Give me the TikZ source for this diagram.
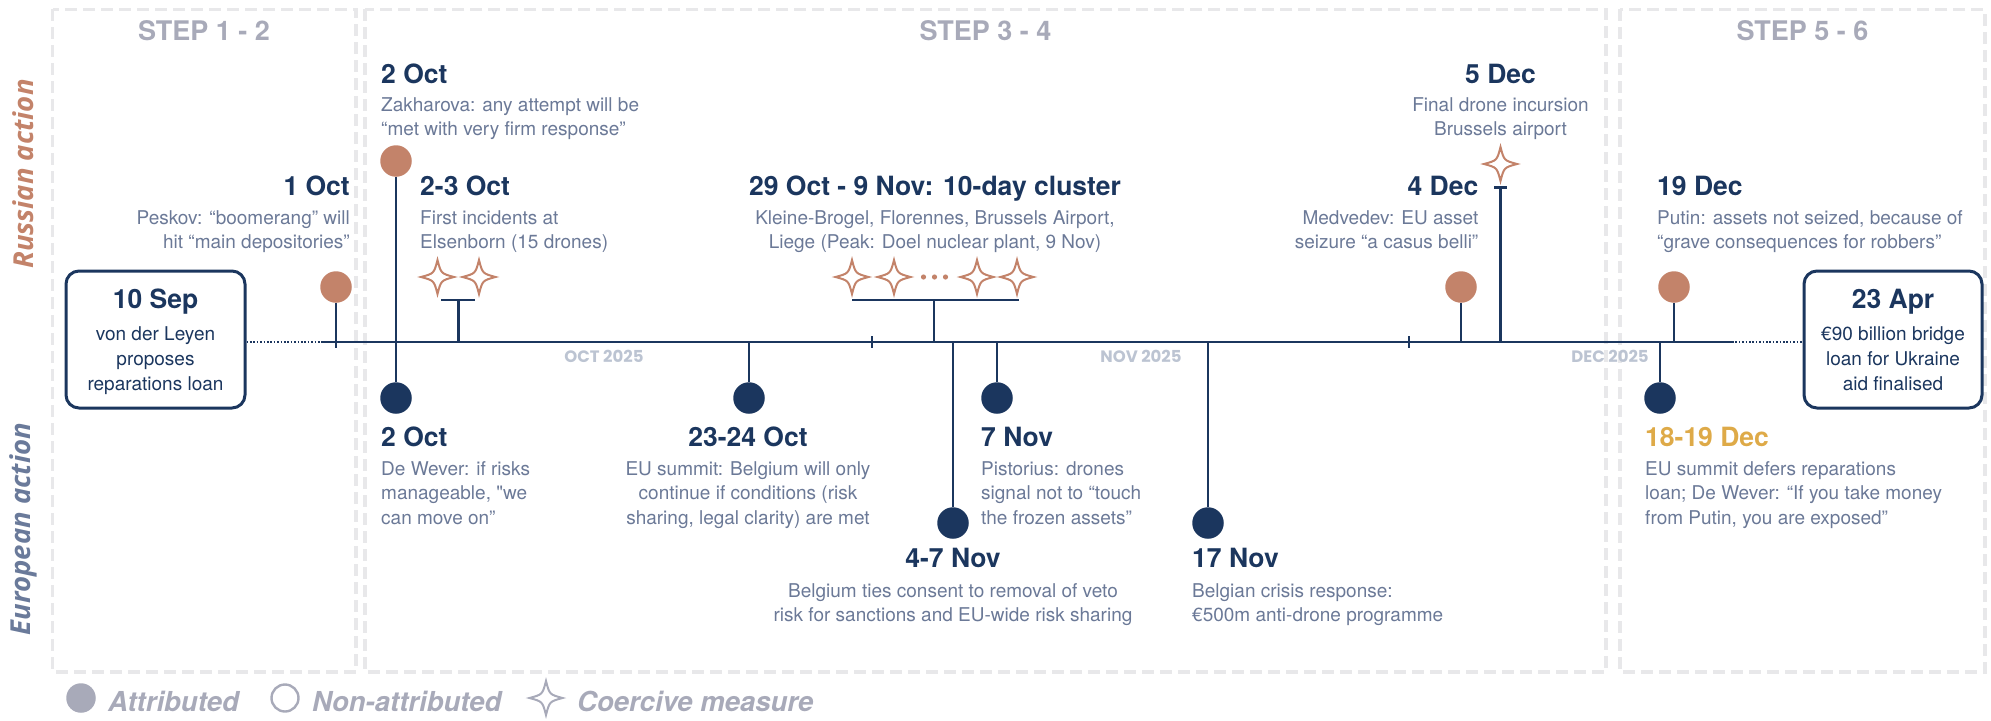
\documentclass[tikz,border=0pt]{standalone}
\usepackage{fontspec}
\setmainfont{TeX Gyre Heros}[Ligatures=TeXOff]
\newfontfamily\osfont{Open Sans}
\newfontfamily\popfont{Poppins}
\definecolor{navy}{HTML}{1B365E}
\definecolor{slate}{HTML}{6B7997}
\definecolor{terra}{HTML}{C3836A}
\definecolor{gold}{HTML}{DEAA48}
\definecolor{stepgrey}{HTML}{A8AAB9}
\definecolor{framegrey}{HTML}{E8E8EA}
\definecolor{monthgrey}{HTML}{BCC4D2}
\definecolor{eurocol}{HTML}{6A7A9A}
\begin{document}
\begin{tikzpicture}[x=1pt,y=-1pt,
  frame/.style={draw=framegrey,line width=3.3pt,dash pattern=on 12pt off 6pt},
  steplbl/.style={font=\fontsize{27}{30}\selectfont\bfseries,text=stepgrey,inner sep=0pt},
  ttl/.style={font=\fontsize{26.5}{30}\selectfont\bfseries,text=navy,inner sep=0pt},
  body/.style={font=\fontsize{19}{24}\selectfont,text=slate,inner sep=0pt},
  boxbody/.style={font=\fontsize{19}{24}\selectfont,text=navy,inner sep=0pt},
  month/.style={font=\popfont\fontsize{16.5}{20}\selectfont\bfseries,text=monthgrey,inner sep=0pt},
  side/.style={font=\osfont\fontsize{27.5}{30}\selectfont\bfseries\itshape,inner sep=0pt,rotate=90},
  legtxt/.style={font=\fontsize{27.5}{30}\selectfont\bfseries\itshape,text=stepgrey,inner sep=0pt},
  tline/.style={draw=navy,line width=2.7pt},
  dotline/.style={draw=navy,line width=2.7pt,dash pattern=on 1.6pt off 1.8pt},
  stem/.style={draw=navy,line width=2.4pt},
  evbox/.style={draw=navy,line width=3pt,rounded corners=13pt,inner sep=0pt},
  rdot/.style={circle,fill=terra,minimum size=31.5pt,inner sep=0pt},
  bdot/.style={circle,fill=navy,minimum size=31.5pt,inner sep=0pt},
  pics/spark/.style={code={\draw[line width=2pt,line join=miter]
     (0,-17) .. controls (3.5,-3.5) .. (16.5,0) .. controls (3.5,3.5) .. (0,17)
     .. controls (-3.5,3.5) .. (-16.5,0) .. controls (-3.5,-3.5) .. cycle;}}
]
\useasboundingbox (0,0) rectangle (1991,720);

% frames
\draw[frame] (52.7,9.3) rectangle (356,672);
\draw[frame] (365,9.3) rectangle (1606,672);
\draw[frame] (1620,9.3) rectangle (1985,672);

\node[steplbl,anchor=base] (s12) at (204,40.7) {STEP 1 - 2};
\node[steplbl,anchor=base] (s34) at (985.5,40.7) {STEP 3 - 4};
\node[steplbl,anchor=base] (s56) at (1802.5,40.7) {STEP 5 - 6};

% side labels
\node[side,text=terra] (rus) at (23,174) {Russian action};
\node[side,text=eurocol] (eur) at (23,529) {European action};

% month labels
\node[month,anchor=base] (moct) at (604,362.7) {OCT 2025};
\node[month,anchor=base] (mnov) at (1141,362.7) {NOV 2025};
\node[month,anchor=base] (mdec) at (1610,362.7) {DEC 2025};

% timeline
\coordinate (tlA) at (321,342);
\coordinate (tlB) at (1732,342);
\draw[tline] (tlA) -- (tlB);

% boxes
\node[evbox,minimum width=179pt,minimum height=137pt] (sep) at (155.5,339.5) {};
\node[evbox,minimum width=178pt,minimum height=137pt] (apr) at (1893,339.5) {};
\draw[dotline] (tlA -| sep.east) -- (tlA);
\draw[dotline] (tlB) -- (tlB -| apr.west);

\node[ttl,anchor=base] (sepT) at (155.5,308.3) {10 Sep};
\node[boxbody,anchor=base] (sep1) at (155.5,340) {von der Leyen};
\node[boxbody,anchor=base] (sep2) at (155.5,365) {proposes};
\node[boxbody,anchor=base] (sep3) at (155.5,390) {reparations loan};
\node[ttl,anchor=base] (aprT) at (1893,308.3) {23 Apr};
\node[boxbody,anchor=base] (apr1) at (1893,340) {€90 billion bridge};
\node[boxbody,anchor=base] (apr2) at (1893,365) {loan for Ukraine};
\node[boxbody,anchor=base] (apr3) at (1893,390) {aid finalised};

% month ticks
\coordinate (tk1a) at (872,336); \coordinate (tk1b) at (872,348);
\coordinate (tk2a) at (1409,336); \coordinate (tk2b) at (1409,348);
\draw[stem] (tk1a) -- (tk1b);
\draw[stem] (tk2a) -- (tk2b);

% ---- 1 Oct
\node[rdot] (d1oct) at (336,287) {};
\coordinate (e1oct) at (336,348);
\draw[stem] (d1oct) -- (e1oct);
\node[ttl,anchor=base east] (t1oct) at (350,195.7) {1 Oct};
\node[body,anchor=base east] (b1oct1) at (350,224) {Peskov: “boomerang” will};
\node[body,anchor=base east] (b1oct2) at (350,248.5) {hit “main depositories”};

% ---- 2 Oct (both)
\node[rdot] (d2octR) at (396,161) {};
\node[bdot] (d2octE) at (396,398) {};
\draw[stem] (d2octR) -- (d2octE);
\node[ttl,anchor=base west] (t2octR) at (381,83.3) {2 Oct};
\node[body,anchor=base west] (b2octR1) at (381,111) {Zakharova: any attempt will be};
\node[body,anchor=base west] (b2octR2) at (381,135.5) {“met with very firm response”};
\node[ttl,anchor=base west] (t2octE) at (381,446.7) {2 Oct};
\node[body,anchor=base west] (b2octE1) at (381,475) {De Wever: if risks};
\node[body,anchor=base west] (b2octE2) at (381,499.5) {manageable, "we};
\node[body,anchor=base west] (b2octE3) at (381,524) {can move on”};

% ---- 2-3 Oct
\pic[color=terra] (sp1) at (437.5,277) {spark};
\pic[color=terra] (sp2) at (479,277) {spark};
\coordinate (br1L) at (441,300); \coordinate (br1R) at (475,300);
\coordinate (br1M) at (458.5,300); \coordinate (br1B) at (458.5,342);
\draw[stem] (br1L) -- (br1R);
\draw[stem] (br1M) -- (br1B);
\node[ttl,anchor=base west] (t23oct) at (420,195.7) {2-3 Oct};
\node[body,anchor=base west] (b23oct1) at (420,224) {First incidents at};
\node[body,anchor=base west] (b23oct2) at (420,248.5) {Elsenborn (15 drones)};

% ---- 23-24 Oct
\node[bdot] (d2324) at (749,398) {};
\coordinate (e2324) at (749,342);
\draw[stem] (e2324) -- (d2324);
\node[ttl,anchor=base] (t2324) at (748,446.7) {23-24 Oct};
\node[body,anchor=base] (b23241) at (748,475) {EU summit: Belgium will only};
\node[body,anchor=base] (b23242) at (748,499.5) {continue if conditions (risk};
\node[body,anchor=base] (b23243) at (748,524) {sharing, legal clarity) are met};

% ---- cluster
\pic[color=terra] (sp3) at (852,277) {spark};
\pic[color=terra] (sp4) at (894,277) {spark};
\pic[color=terra] (sp5) at (977,277) {spark};
\pic[color=terra] (sp6) at (1017,277) {spark};
\fill[terra] (923.5,277) circle[radius=2.6pt] (934.5,277) circle[radius=2.6pt] (945.5,277) circle[radius=2.6pt];
\coordinate (br2L) at (852,300); \coordinate (br2R) at (1019,300);
\coordinate (br2M) at (934,300); \coordinate (br2B) at (934,342);
\draw[stem] (br2L) -- (br2R);
\draw[stem] (br2M) -- (br2B);
\node[ttl,anchor=base] (tclu) at (935,195.7) {29 Oct - 9 Nov: 10-day cluster};
\node[body,anchor=base] (bclu1) at (935,224) {Kleine-Brogel, Florennes, Brussels Airport,};
\node[body,anchor=base] (bclu2) at (935,248.5) {Liege (Peak: Doel nuclear plant, 9 Nov)};

% ---- 4-7 Nov
\node[bdot] (d47) at (953,523) {};
\coordinate (e47) at (953,342);
\draw[stem] (e47) -- (d47);
\node[ttl,anchor=base] (t47) at (953,567.7) {4-7 Nov};
\node[body,anchor=base] (b471) at (953,597.3) {Belgium ties consent to removal of veto};
\node[body,anchor=base] (b472) at (953,621.8) {risk for sanctions and EU-wide risk sharing};

% ---- 7 Nov
\node[bdot] (d7nov) at (997,398) {};
\coordinate (e7nov) at (997,342);
\draw[stem] (e7nov) -- (d7nov);
\node[ttl,anchor=base west] (t7nov) at (981,446.7) {7 Nov};
\node[body,anchor=base west] (b7nov1) at (981,475) {Pistorius: drones};
\node[body,anchor=base west] (b7nov2) at (981,499.5) {signal not to “touch};
\node[body,anchor=base west] (b7nov3) at (981,524) {the frozen assets”};

% ---- 17 Nov
\node[bdot] (d17) at (1208,523) {};
\coordinate (e17) at (1208,342);
\draw[stem] (e17) -- (d17);
\node[ttl,anchor=base west] (t17) at (1192,567.7) {17 Nov};
\node[body,anchor=base west] (b171) at (1192,597.3) {Belgian crisis response:};
\node[body,anchor=base west] (b172) at (1192,621.8) {€500m anti-drone programme};

% ---- 4 Dec
\node[rdot] (d4dec) at (1461,287) {};
\coordinate (e4dec) at (1461,342);
\draw[stem] (d4dec) -- (e4dec);
\node[ttl,anchor=base east] (t4dec) at (1478.5,195.7) {4 Dec};
\node[body,anchor=base east] (b4dec1) at (1478.5,224) {Medvedev: EU asset};
\node[body,anchor=base east] (b4dec2) at (1478.5,248.5) {seizure “a casus belli”};

% ---- 5 Dec
\pic[color=terra] (sp7) at (1500.5,164) {spark};
\coordinate (c5L) at (1494,187.3); \coordinate (c5R) at (1507,187.3);
\coordinate (c5M) at (1500.5,187.3); \coordinate (c5B) at (1500.5,342);
\draw[stem] (c5L) -- (c5R);
\draw[stem] (c5M) -- (c5B);
\node[ttl,anchor=base] (t5dec) at (1500.5,83.3) {5 Dec};
\node[body,anchor=base] (b5dec1) at (1500.5,111) {Final drone incursion};
\node[body,anchor=base] (b5dec2) at (1500.5,135.5) {Brussels airport};

% ---- 18-19 Dec
\node[bdot] (d1819) at (1660,398) {};
\coordinate (e1819) at (1660,342);
\draw[stem] (e1819) -- (d1819);
\node[ttl,anchor=base west,text=gold] (t1819) at (1645,446.7) {18-19 Dec};
\node[body,anchor=base west] (b18191) at (1645,475) {EU summit defers reparations};
\node[body,anchor=base west] (b18192) at (1645,499.5) {loan; De Wever: “If you take money};
\node[body,anchor=base west] (b18193) at (1645,524) {from Putin, you are exposed”};

% ---- 19 Dec
\node[rdot] (d19dec) at (1674,287) {};
\coordinate (e19dec) at (1674,342);
\draw[stem] (d19dec) -- (e19dec);
\node[ttl,anchor=base west] (t19dec) at (1657,195.7) {19 Dec};
\node[body,anchor=base west] (b19dec1) at (1657,224) {Putin: assets not seized, because of};
\node[body,anchor=base west] (b19dec2) at (1657,248.5) {“grave consequences for robbers”};

% legend
\node[circle,fill=stepgrey,minimum size=29.5pt,inner sep=0pt] (lgA) at (81,698) {};
\node[legtxt,anchor=base west] (lgAt) at (108,711) {Attributed};
\node[circle,draw=stepgrey,line width=2.4pt,minimum size=27pt,inner sep=0pt] (lgN) at (285,698) {};
\node[legtxt,anchor=base west] (lgNt) at (312,711) {Non-attributed};
\pic[color=stepgrey] (lgS) at (546,698) {spark};
\node[legtxt,anchor=base west] (lgSt) at (577,711) {Coercive measure};
\end{tikzpicture}
\end{document}
